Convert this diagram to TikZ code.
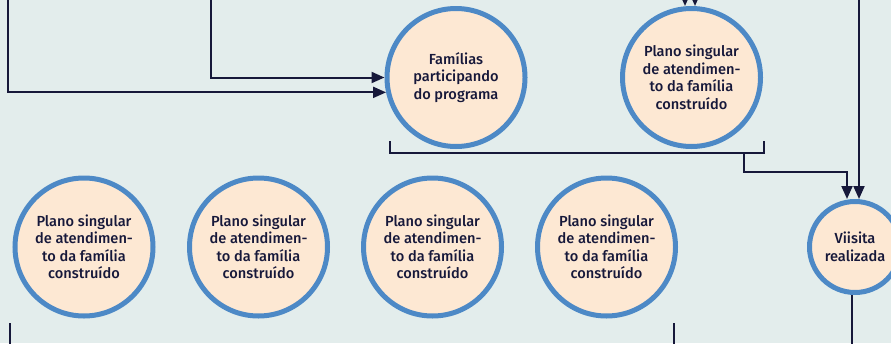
\documentclass[tikz,border=0pt]{standalone}
\usepackage{fontspec}
\setmainfont{Fira Sans}[UprightFont={* Medium}]
\usetikzlibrary{arrows.meta,calc}
\definecolor{bgcol}{HTML}{E3EDEC}
\definecolor{fillcol}{HTML}{FDE8D3}
\definecolor{bordercol}{HTML}{4D89C6}
\definecolor{linecol}{HTML}{16183A}
\tikzset{
  circ/.style={circle,draw=bordercol,fill=fillcol,line width=5pt,inner sep=0pt,
    minimum size=138pt,align=center,text=linecol,
    font=\fontsize{14.6}{17.5}\selectfont},
  smallcirc/.style={circ,minimum size=91pt},
  conn/.style={draw=linecol,line width=2pt},
  arr/.style={conn,-{Triangle[length=13pt,width=11pt]}},
}
\begin{document}
\begin{tikzpicture}[x=1pt,y=-1pt]
\useasboundingbox (0,0) rectangle (891,343);
\clip (0,0) rectangle (891,343);
\fill[bgcol] (0,0) rectangle (891,343);

% top row
\node[circ] (fam) at (456,77.5) {Famílias\\participando\\do programa};
\node[circ] (psa) at (691.5,77.5) {Plano singular\\de atendimen-\\to da família\\construído};
% visit
\node[smallcirc] (vis) at (855,247) {Viisita\\realizada};
% bottom row
\node[circ] (p1) at (84,247) {Plano singular\\de atendimen-\\to da família\\construído};
\node[circ] (p2) at (258.5,247) {Plano singular\\de atendimen-\\to da família\\construído};
\node[circ] (p3) at (432.5,247) {Plano singular\\de atendimen-\\to da família\\construído};
\node[circ] (p4) at (606.5,247) {Plano singular\\de atendimen-\\to da família\\construído};

% coordinates for free ends
\coordinate (a8) at (8,-2);
\coordinate (a211) at (211,-2);
\coordinate (a685) at (685,-2);
\coordinate (a695) at (695,-2);
\coordinate (a859) at (859,-2);
\coordinate (bl) at (390,141);
\coordinate (blc) at (390,153);
\coordinate (brc) at (764,153);
\coordinate (br) at (764,141);
\coordinate (bj) at (744,153);
\coordinate (bk) at (847,172);
\coordinate (vb) at (852,345);
\coordinate (l1a) at (10,323);
\coordinate (l1b) at (10,345);
\coordinate (l2a) at (674,323);
\coordinate (l2b) at (674,345);

% connectors
\draw[arr] (a8) |- (fam.192.6);
\draw[arr] (a211) |- (fam.west);
\draw[arr] (a685) -- (a685 |- psa.north);
\draw[arr] (a695) -- (a695 |- psa.north);
\draw[conn] (bl) -- (blc) -- (brc) -- (br);
\draw[arr] (bj) |- (bk) -- (bk |- vis.north);
\draw[arr] (a859) -- (a859 |- vis.north);
\draw[conn] (vb |- vis.south) -- (vb);
\draw[conn] (l1a) -- (l1b);
\draw[conn] (l2a) -- (l2b);
\end{tikzpicture}
\end{document}
